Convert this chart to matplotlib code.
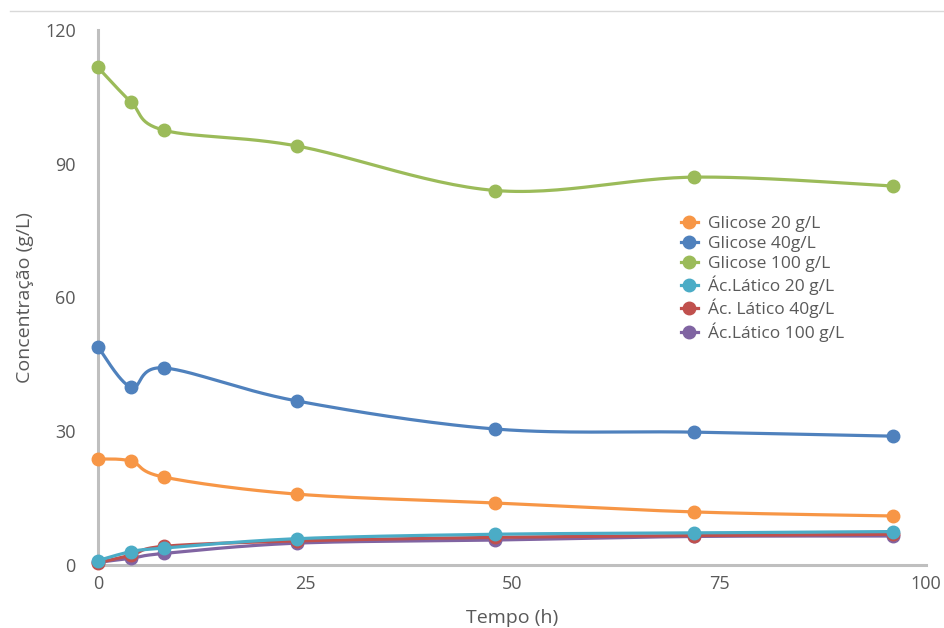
import numpy as np
import matplotlib
matplotlib.use("Agg")
import matplotlib.pyplot as plt
from matplotlib.lines import Line2D

tempo = [0, 4, 8, 24, 48, 72, 96]
glicose_20 = [23.8, 23.3, 19.7, 15.9, 13.9, 11.9, 11.0]
glicose_40 = [48.9, 39.9, 44.2, 36.8, 30.5, 29.8, 28.9]
glicose_100 = [111.6, 103.8, 97.5, 94.0, 84.0, 87.0, 85.0]
latico_20 = [1.0, 3.0, 3.8, 5.9, 6.9, 7.2, 7.5]
latico_40 = [0.5, 2.2, 4.2, 5.4, 6.2, 6.6, 6.9]
latico_100 = [0.6, 1.5, 2.6, 4.9, 5.6, 6.4, 6.5]

labels = ["Glicose 20 g/L", "Glicose 40g/L", "Glicose 100 g/L",
          "Ác.Lático 20 g/L", "Ác. Lático 40g/L", "Ác.Lático 100 g/L"]
series = [glicose_20, glicose_40, glicose_100, latico_20, latico_40, latico_100]
colors = ["#F79646", "#4F81BD", "#9BBB59", "#4BACC6", "#C0504D", "#8064A2"]
zorders = [3, 3, 3, 6, 5, 4]

plt.rcParams['font.family'] = ['Open Sans', 'DejaVu Sans']


def smooth(x, y, n=30):
    # Excel-like smoothed line: cubic Bezier between points with Catmull-Rom controls
    x = np.asarray(x, float)
    y = np.asarray(y, float)
    xs, ys = [], []
    t = np.linspace(0, 1, n)
    for i in range(len(x) - 1):
        p0 = np.array([x[max(i - 1, 0)], y[max(i - 1, 0)]])
        p1 = np.array([x[i], y[i]])
        p2 = np.array([x[i + 1], y[i + 1]])
        p3 = np.array([x[min(i + 2, len(x) - 1)], y[min(i + 2, len(x) - 1)]])
        c1 = p1 + (p2 - p0) / 6.0
        c2 = p2 - (p3 - p1) / 6.0
        b = ((1 - t) ** 3)[:, None] * p1 + (3 * (1 - t) ** 2 * t)[:, None] * c1 \
            + (3 * (1 - t) * t ** 2)[:, None] * c2 + (t ** 3)[:, None] * p2
        xs.extend(b[:, 0])
        ys.extend(b[:, 1])
    return np.array(xs), np.array(ys)


fig = plt.figure(figsize=(9.44, 6.28), dpi=100)
ax = fig.add_axes([98 / 944, 1 - 565 / 628, (926 - 98) / 944, (565 - 30) / 628])

handles = []
for yv, c, lab, z in zip(series, colors, labels, zorders):
    sx, sy = smooth(tempo, yv)
    ax.plot(sx, sy, color=c, lw=2.3, zorder=z, solid_capstyle='round')
    ax.plot(tempo, yv, 'o', color=c, ms=9, zorder=z, clip_on=False)
    handles.append(Line2D([0], [0], color=c, lw=2.3, marker='o', ms=9))

ax.set_xlim(0, 100)
ax.set_ylim(0, 120)
ax.set_xticks([0, 25, 50, 75, 100])
ax.set_yticks([0, 30, 60, 90, 120])
for s in ['top', 'right']:
    ax.spines[s].set_visible(False)
for s in ['left', 'bottom']:
    ax.spines[s].set_color('#BFBFBF')
    ax.spines[s].set_linewidth(2.2)
ax.tick_params(length=0, labelsize=13, labelcolor='#595959')
ax.tick_params(axis='y', pad=16)
ax.tick_params(axis='x', pad=7)
ax.set_xlabel('Tempo (h)', fontsize=14, color='#595959', labelpad=12)
ax.set_ylabel('Concentração (g/L)', fontsize=14, color='#595959', labelpad=8)

leg = ax.legend(handles, labels, loc='upper left', bbox_to_anchor=(665 / 944, 1 - 200 / 628),
                bbox_transform=fig.transFigure, frameon=False, fontsize=12.5,
                handlelength=1.0, handletextpad=0.6, labelspacing=0.22,
                labelcolor='#595959')

fig.add_artist(Line2D([10 / 944, 1.0], [1 - 11 / 628, 1 - 11 / 628], color='#D9D9D9', lw=1,
                      transform=fig.transFigure))

fig.savefig('out.png', dpi=100)
